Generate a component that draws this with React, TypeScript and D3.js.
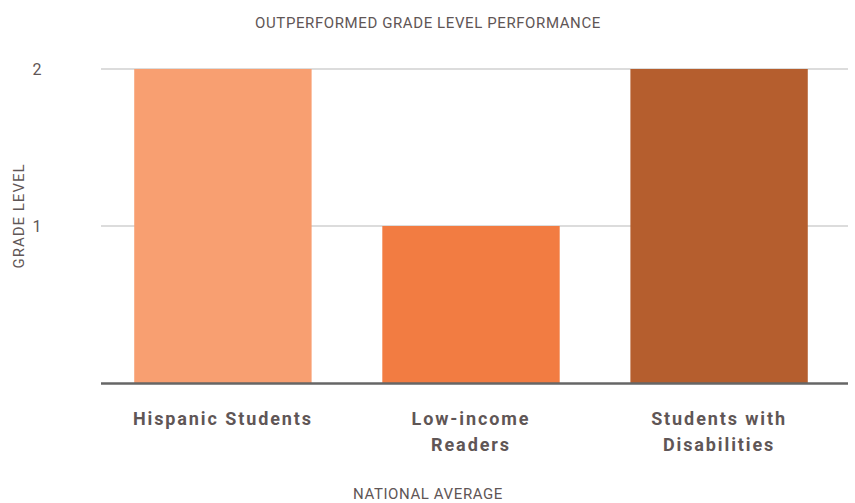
import React from "react";
import * as d3 from "d3";

const categories: string[][] = [["Hispanic Students"], ["Low-income", "Readers"], ["Students with", "Disabilities"]];
const values: number[] = [2, 1, 2];
const colors: string[] = ["#F89F71", "#F27C42", "#B55E2E"];
const yTicks: number[] = [1, 2];
const title = "OUTPERFORMED GRADE LEVEL PERFORMANCE";
const xTitle = "NATIONAL AVERAGE";
const yTitle = "GRADE LEVEL";

const W = 855, H = 503;
const textColor = "#5f5656";
const font = "Roboto, 'Open Sans', sans-serif";

export default function App() {
  const x = d3.scaleBand<number>().domain(d3.range(values.length)).range([99, 843]).paddingInner(0.285).paddingOuter(0.142);
  const y = d3.scaleLinear().domain([0, 2]).range([383, 69]);
  return (
    <svg width={W} height={H} style={{ position: "absolute", left: 0, top: 0 }} fontFamily={font}>
      <text x={428} y={28} textAnchor="middle" fontSize={15} fill={textColor} letterSpacing={0.6}>{title}</text>
      {yTicks.map((t) => (
        <g key={t}>
          <line x1={101} x2={848} y1={y(t)} y2={y(t)} stroke="#dcdcdc" strokeWidth={2} />
          <text x={37} y={y(t) + 5.5} textAnchor="middle" fontSize={16} fill={textColor}>{t}</text>
        </g>
      ))}
      {values.map((v, i) => (
        <rect key={i} x={x(i)} width={x.bandwidth()} y={y(v)} height={y(0) - y(v)} fill={colors[i]} />
      ))}
      <line x1={101} x2={848} y1={383.5} y2={383.5} stroke="#666" strokeWidth={2.5} />
      {categories.map((lines, i) => (
        <text key={i} textAnchor="middle" fontSize={18} fontWeight="bold" fill={textColor} letterSpacing={1.9}>
          {lines.map((l, j) => (
            <tspan key={j} x={(x(i) as number) + x.bandwidth() / 2} y={424.5 + j * 26.5}>{l}</tspan>
          ))}
        </text>
      ))}
      <text x={428} y={499} textAnchor="middle" fontSize={15} fill={textColor} letterSpacing={0.6}>{xTitle}</text>
      <text transform={`translate(24,216) rotate(-90)`} textAnchor="middle" fontSize={15} fill={textColor} letterSpacing={1}>{yTitle}</text>
    </svg>
  );
}
